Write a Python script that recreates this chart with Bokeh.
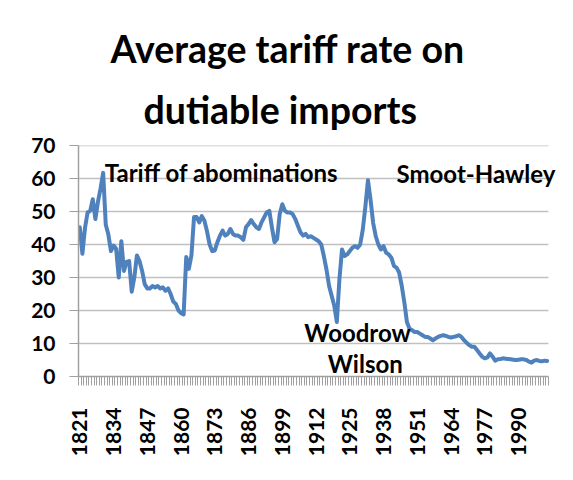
from bokeh.plotting import figure
from bokeh.models import Range1d, FixedTicker, Title, Label, ColumnDataSource
from bokeh.embed import file_html
from bokeh.resources import INLINE

years = list(range(1821, 2002))
rates = [
    45.2, 37.2, 45.0, 49.7, 50.2, 53.7, 47.7, 53.0, 57.0, 61.7,
    46.0, 43.0, 38.0, 39.7, 38.7, 30.0, 41.0, 32.0, 34.7, 35.0,
    25.7, 30.0, 36.7, 35.0, 32.0, 28.0, 26.7, 26.7, 27.4, 27.0,
    27.4, 26.7, 27.0, 26.0, 26.7, 25.0, 22.7, 22.0, 20.0, 19.2,
    18.8, 36.2, 32.6, 36.7, 48.3, 48.3, 46.7, 48.6, 47.2, 44.0,
    40.0, 38.0, 38.2, 40.7, 42.7, 44.2, 42.7, 43.2, 44.7, 43.2,
    42.7, 42.7, 42.2, 41.4, 45.2, 46.2, 47.4, 46.2, 45.2, 44.7,
    46.7, 48.2, 49.7, 50.2, 45.2, 40.7, 41.7, 49.2, 52.2, 50.2,
    49.7, 49.7, 49.2, 47.7, 45.7, 43.7, 42.7, 43.2, 42.2, 42.5,
    42.0, 41.5, 41.0, 40.0, 36.5, 32.5, 27.5, 24.5, 21.5, 16.5,
    29.5, 38.5, 36.5, 37.0, 38.0, 39.0, 39.5, 39.0, 40.0, 44.5,
    51.5, 59.5, 53.5, 46.5, 42.5, 40.0, 38.5, 39.5, 37.5, 37.0,
    36.0, 33.5, 33.0, 31.5, 27.5, 22.5, 16.5, 14.5, 14.0, 13.5,
    13.5, 13.0, 12.5, 12.0, 12.0, 11.5, 11.0, 11.5, 12.0, 12.3,
    12.5, 12.3, 12.0, 11.8, 12.0, 12.2, 12.5, 12.0, 11.0, 10.2,
    9.5, 9.0, 9.0, 8.0, 7.0, 6.0, 5.5, 5.8, 7.0, 6.0,
    4.8, 5.2, 5.3, 5.5, 5.4, 5.3, 5.2, 5.1, 5.0, 5.1,
    5.2, 5.2, 5.0, 4.5, 4.2, 4.8, 5.0, 4.7, 4.6, 4.8,
    4.7,
]
label_years = [1821, 1834, 1847, 1860, 1873, 1886, 1899, 1912, 1925, 1938, 1951, 1964, 1977, 1990]
y_ticks = [0, 10, 20, 30, 40, 50, 60, 70]
title_lines = ["Average tariff rate on", "dutiable imports"]
annotations = [
    ("Tariff of abominations", 1830.6, 61.8),
    ("Smoot-Hawley", 1943.0, 61.5),
    ("Woodrow", 1907.5, 13.3),
    ("Wilson", 1916.5, 3.9),
]

FONT = "Lato"
W, H = 565, 464
x_lo, x_hi = years[0] - 0.5, years[-1] + 0.5
# frame extends ~3.5 years past the data so the right-hand label is not clipped
p = figure(width=W, height=H, output_backend="svg", toolbar_location=None,
           x_range=Range1d(x_lo, x_hi + 3.5),
           y_range=Range1d(0, 70),
           min_border_left=78, min_border_right=8,
           min_border_top=145, min_border_bottom=88)
p.outline_line_color = None
p.background_fill_color = "white"
p.border_fill_color = "white"

# horizontal gridlines limited to the data span
grid_src = ColumnDataSource(dict(x0=[x_lo] * (len(y_ticks) - 1), x1=[x_hi] * (len(y_ticks) - 1),
                                 y=y_ticks[1:]))
p.segment(x0="x0", x1="x1", y0="y", y1="y", source=grid_src,
          line_color="#c0c0c0", line_width=1.5)

src = ColumnDataSource(dict(year=years, rate=rates))
p.line("year", "rate", source=src, line_color="#4F81BD", line_width=4,
       line_join="round", line_cap="round")

# x axis
boundaries = [y - 0.5 for y in years] + [x_hi]
p.xaxis.bounds = (x_lo, x_hi)
p.xaxis.ticker = FixedTicker(ticks=label_years, minor_ticks=boundaries)
p.xaxis.major_label_orientation = 1.5707963
p.xaxis.major_tick_out = 0
p.xaxis.major_tick_in = 0
p.xaxis.minor_tick_out = 9
p.xaxis.minor_tick_in = 0
p.xaxis.minor_tick_line_color = "#a0a0a0"
p.xaxis.axis_line_color = "#a0a0a0"
p.xaxis.axis_line_width = 1.5
p.xaxis.major_label_standoff = 22
p.xaxis.major_label_text_font = FONT
p.xaxis.major_label_text_font_style = "bold"
p.xaxis.major_label_text_font_size = "21px"
p.xaxis.major_label_text_color = "black"
p.xgrid.visible = False

# y axis
p.yaxis.ticker = FixedTicker(ticks=y_ticks, minor_ticks=[])
p.yaxis.major_tick_out = 9
p.yaxis.major_tick_in = 0
p.yaxis.major_tick_line_color = "#a0a0a0"
p.yaxis.axis_line_color = "#a0a0a0"
p.yaxis.axis_line_width = 1.5
p.yaxis.major_label_standoff = 14
p.yaxis.major_label_text_font = FONT
p.yaxis.major_label_text_font_style = "bold"
p.yaxis.major_label_text_font_size = "21px"
p.yaxis.major_label_text_color = "black"
p.ygrid.visible = False

for txt, x, y in annotations:
    p.add_layout(Label(x=x, y=y, text=txt, text_font=FONT, text_font_style="bold",
                       text_font_size="24px", text_color="black",
                       text_baseline="middle", text_align="left"))

t2 = Title(text=title_lines[1], align="left", text_font=FONT, text_font_style="bold",
           text_font_size="37.5px", text_color="black", standoff=28, offset=65)
t1 = Title(text=title_lines[0], align="left", text_font=FONT, text_font_style="bold",
           text_font_size="37.5px", text_color="black", standoff=-1, offset=32)
p.add_layout(t2, "above")
p.add_layout(t1, "above")

open("out.html", "w").write(file_html(p, INLINE))
